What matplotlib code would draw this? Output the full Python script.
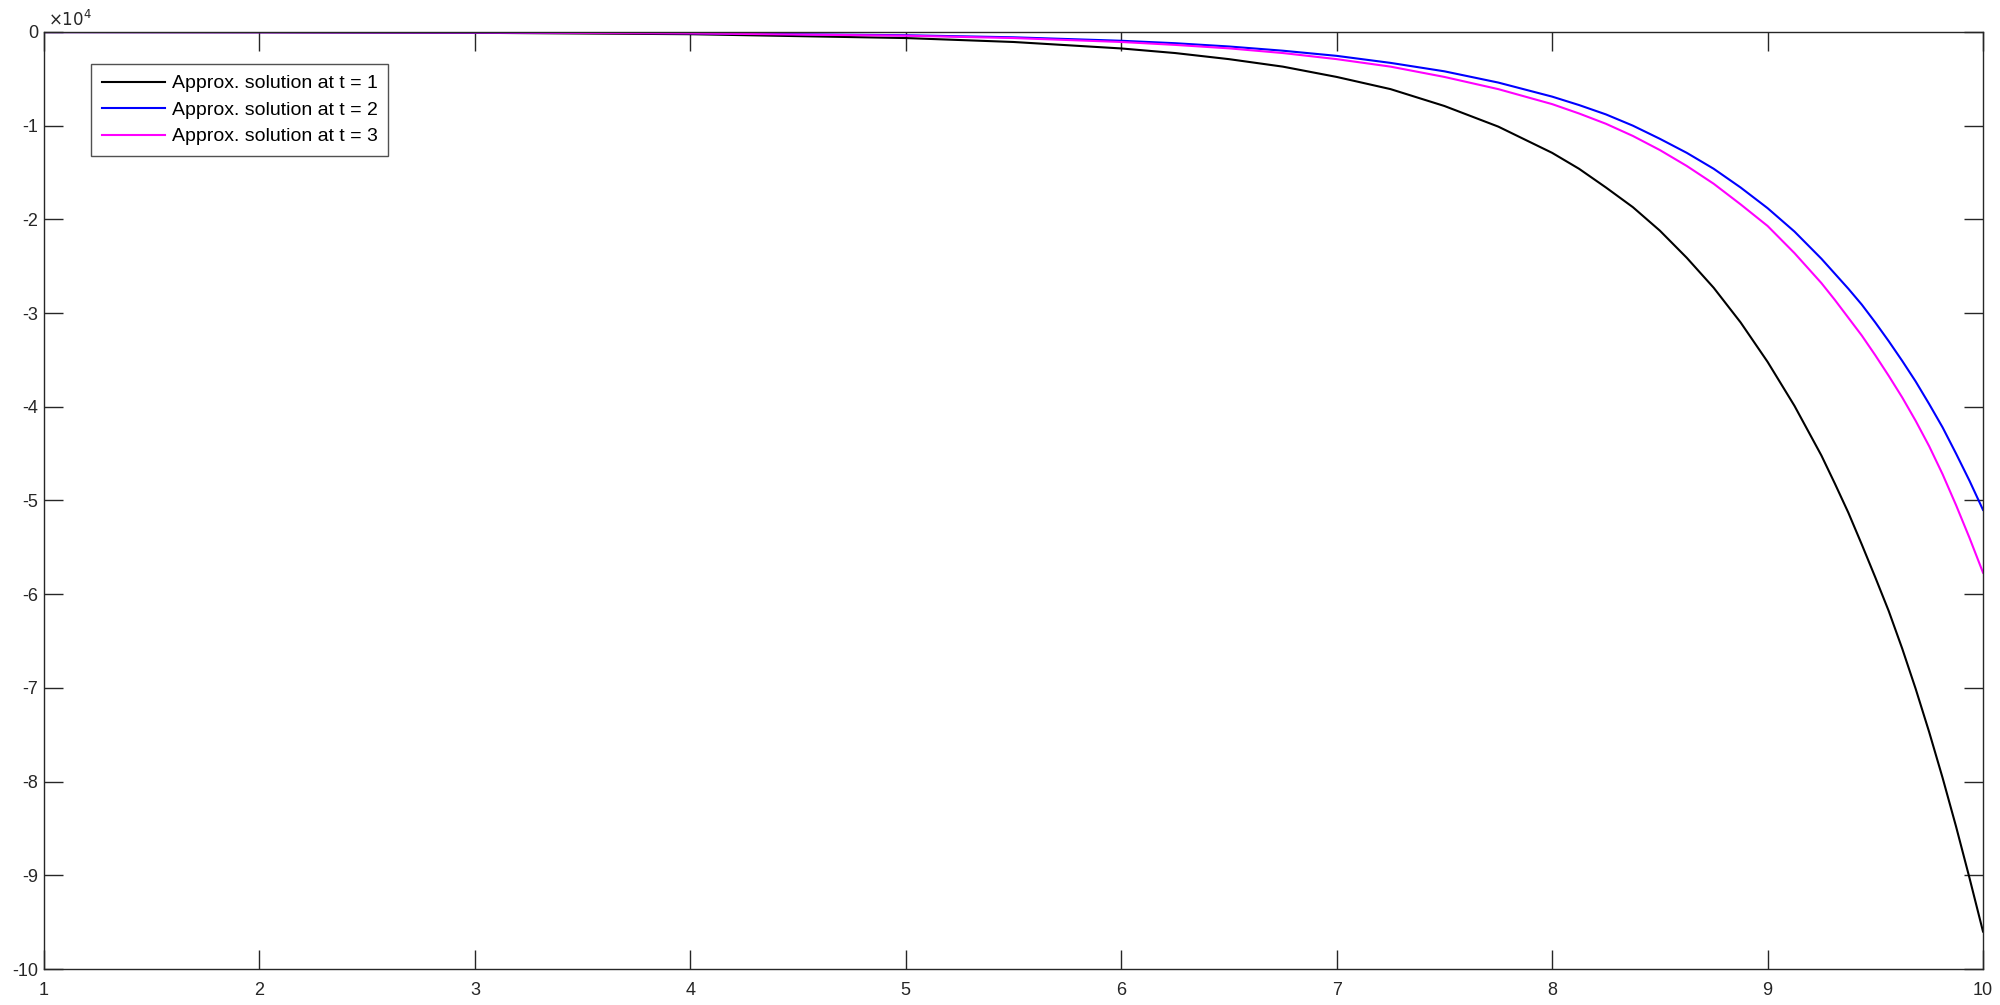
import matplotlib.pyplot as plt

plt.rcParams['font.family'] = ['Liberation Sans', 'DejaVu Sans']

# values (y in units of 1e4)
x = [1, 2, 3, 4, 5, 5.5, 6, 6.25, 6.5, 6.75, 7, 7.25, 7.5, 7.75, 8, 8.125, 8.25, 8.375,
     8.5, 8.625, 8.75, 8.875, 9, 9.125, 9.25, 9.3125, 9.375, 9.4375, 9.5, 9.5625, 9.625,
     9.6875, 9.75, 9.8125, 9.875, 9.9375, 10]

sol_t1 = [-0.001, -0.003, -0.009, -0.024, -0.065, -0.107, -0.176, -0.225, -0.29, -0.37,
          -0.48, -0.61, -0.79, -1.01, -1.29, -1.46, -1.66, -1.87, -2.12, -2.41, -2.73,
          -3.10, -3.52, -3.99, -4.52, -4.82, -5.13, -5.47, -5.82, -6.18, -6.58, -7.01,
          -7.47, -7.96, -8.48, -9.03, -9.60]
sol_t2 = [-0.001, -0.002, -0.005, -0.013, -0.035, -0.057, -0.094, -0.12, -0.155, -0.20,
          -0.255, -0.33, -0.42, -0.54, -0.69, -0.78, -0.88, -1.00, -1.14, -1.29, -1.46,
          -1.66, -1.88, -2.13, -2.42, -2.58, -2.74, -2.91, -3.10, -3.30, -3.51, -3.73,
          -3.97, -4.22, -4.50, -4.79, -5.10]
sol_t3 = [-0.001, -0.003, -0.006, -0.015, -0.040, -0.065, -0.107, -0.138, -0.175, -0.225,
          -0.29, -0.37, -0.48, -0.61, -0.77, -0.87, -0.98, -1.11, -1.26, -1.43, -1.62,
          -1.84, -2.07, -2.36, -2.68, -2.86, -3.05, -3.24, -3.45, -3.67, -3.90, -4.15,
          -4.42, -4.72, -5.05, -5.40, -5.77]

labels = ['Approx. solution at t = 1', 'Approx. solution at t = 2', 'Approx. solution at t = 3']
scale = 1e4

fig = plt.figure(figsize=(20, 10.05), dpi=100)
ax = fig.add_axes([0.022, 0.0358, 0.9695, 0.9324])

ax.plot(x, [v * scale for v in sol_t1], color='k', lw=1.5, label=labels[0])
ax.plot(x, [v * scale for v in sol_t2], color='#0000ff', lw=1.5, label=labels[1])
ax.plot(x, [v * scale for v in sol_t3], color='#ff00ff', lw=1.5, label=labels[2])

ax.set_xlim(1, 10)
ax.set_ylim(-10 * scale, 0)
ax.set_xticks(range(1, 11))
ax.set_yticks([v * scale for v in range(-10, 1)])
ax.set_yticklabels([str(v) for v in range(-10, 1)])

ax.tick_params(direction='in', length=14, width=1, top=True, right=True,
               labelsize=13, colors='#262626')
ax.tick_params(axis='x', pad=9)
ax.tick_params(axis='y', pad=4)
for s in ax.spines.values():
    s.set_color('#262626')
    s.set_linewidth(1.0)

ax.text(0.002, 1.003, r'$\times10^{4}$', transform=ax.transAxes, fontsize=12,
        color='#262626', va='bottom', ha='left')

leg = ax.legend(loc='upper left', bbox_to_anchor=(0.0243, 0.9658), borderaxespad=0,
                fontsize=14, frameon=True, fancybox=False, edgecolor='#262626',
                handlelength=3.24, handletextpad=0.36, labelspacing=0.46, borderpad=0.55)
leg.get_frame().set_linewidth(1.0)

fig.savefig('out.png', dpi=100, facecolor='white')
